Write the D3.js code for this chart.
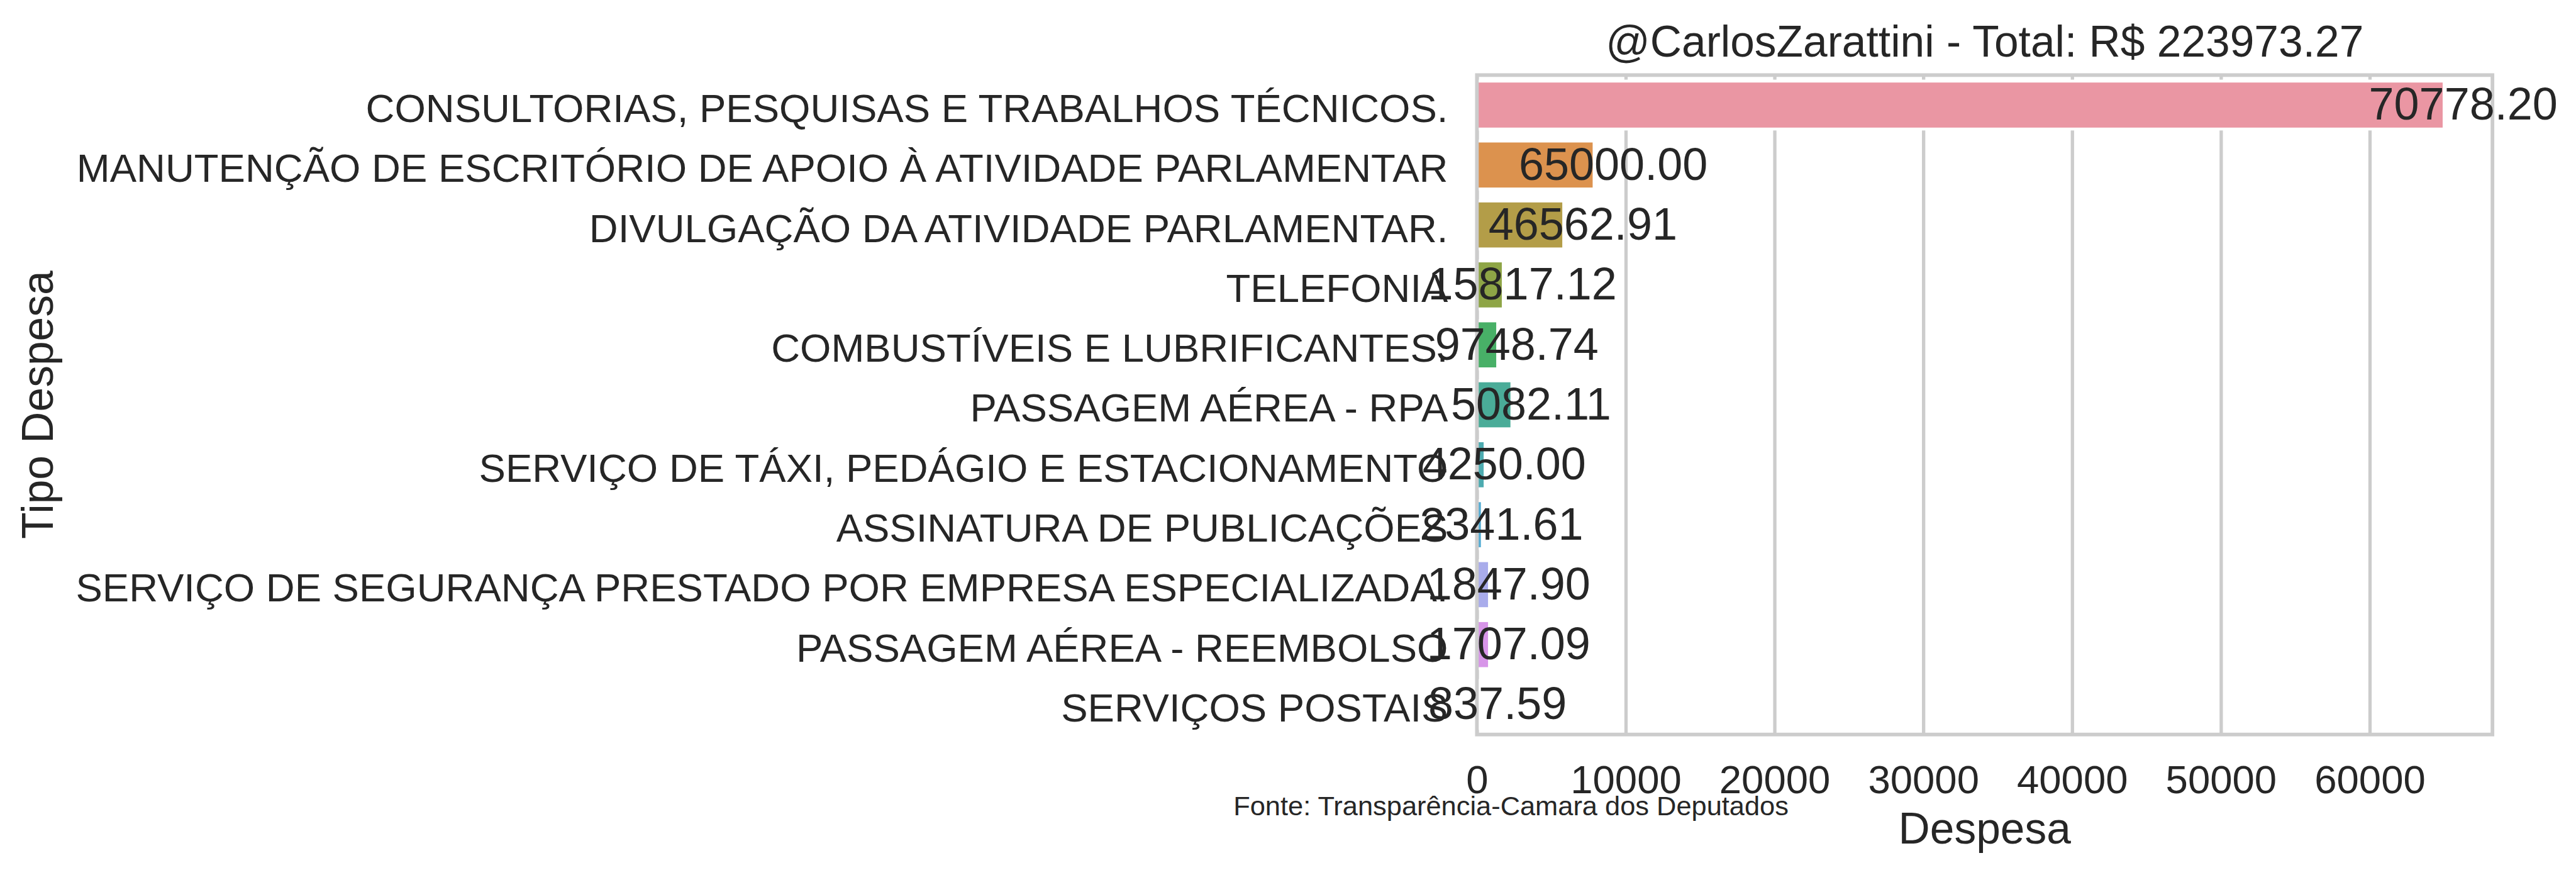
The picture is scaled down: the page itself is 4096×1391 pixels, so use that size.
<!DOCTYPE html>
<html>
<head>
<meta charset="utf-8">
<script src="https://cdn.jsdelivr.net/npm/d3@7"></script>
<style>
  html, body { margin: 0; padding: 0; background: #ffffff; }
  svg { display: block; }
  text { font-family: "Liberation Sans", Arial, sans-serif; fill: #262626; }
</style>
</head>
<body>
<svg id="chart" width="4096" height="1391"></svg>
<script>
// ---------------- data ----------------
const categories = [
  "CONSULTORIAS, PESQUISAS E TRABALHOS TÉCNICOS.",
  "MANUTENÇÃO DE ESCRITÓRIO DE APOIO À ATIVIDADE PARLAMENTAR",
  "DIVULGAÇÃO DA ATIVIDADE PARLAMENTAR.",
  "TELEFONIA",
  "COMBUSTÍVEIS E LUBRIFICANTES.",
  "PASSAGEM AÉREA - RPA",
  "SERVIÇO DE TÁXI, PEDÁGIO E ESTACIONAMENTO",
  "ASSINATURA DE PUBLICAÇÕES",
  "SERVIÇO DE SEGURANÇA PRESTADO POR EMPRESA ESPECIALIZADA.",
  "PASSAGEM AÉREA - REEMBOLSO",
  "SERVIÇOS POSTAIS"
];
// bar lengths as drawn (R$)
const barValues = [65000, 7875, 5835, 1770, 1395, 2350, 550, 365, 845, 845, 100];
// value annotations printed next to the bars
const labelTexts = ["70778.20", "65000.00", "46562.91", "15817.12", "9748.74",
                    "5082.11", "4250.00", "2341.61", "1847.90", "1707.09", "837.59"];
const xTicks = [0, 10000, 20000, 30000, 40000, 50000, 60000];
const titleText = "@CarlosZarattini - Total: R$ 223973.27";
const xLabel = "Despesa";
const yLabel = "Tipo Despesa";
const sourceText = "Fonte: Transparência-Camara dos Deputados";

// ---------------- seaborn husl palette ----------------
function huslPalette(n, h, s, l) {
  const M = [[3.2406, -1.5372, -0.4986], [-0.9689, 1.8758, 0.0415], [0.0557, -0.2040, 1.0570]];
  const refU = 0.19784, refV = 0.46834, labE = 0.008856, labK = 903.3;
  function maxChroma(L, H) {
    const hr = H * Math.PI / 180, sinH = Math.sin(hr), cosH = Math.cos(hr);
    const sub1 = Math.pow(L + 16, 3) / 1560896.0;
    const sub2 = sub1 > 0.008856 ? sub1 : L / 903.3;
    let res = Infinity;
    for (const [m1, m2, m3] of M) {
      const top = (0.99915 * m1 + 1.05122 * m2 + 1.14460 * m3) * sub2;
      const rb = 0.86330 * m3 - 0.17266 * m2;
      const lb = 0.12949 * m3 - 0.38848 * m1;
      const bottom = (rb * sinH + lb * cosH) * sub2;
      for (const t of [0, 1]) {
        const C = L * (top - 1.05122 * t) / (bottom + 0.17266 * sinH * t);
        if (C > 0 && C < res) res = C;
      }
    }
    return res;
  }
  function fInv(t) { return Math.pow(t, 3) > labE ? Math.pow(t, 3) : (116 * t - 16) / labK; }
  function fromLinear(c) { return c <= 0.0031308 ? 12.92 * c : 1.055 * Math.pow(c, 1 / 2.4) - 0.055; }
  function huslToRgb(H, S, L) {
    const C = maxChroma(L, H) / 100 * S;
    const hr = H * Math.PI / 180;
    const U = Math.cos(hr) * C, V = Math.sin(hr) * C;
    const varY = fInv((L + 16) / 116);
    const varU = U / (13 * L) + refU, varV = V / (13 * L) + refV;
    const Y = varY;
    const X = 0 - (9 * Y * varU) / ((varU - 4) * varV - varU * varV);
    const Z = (9 * Y - 15 * varV * Y - varV * X) / (3 * varV);
    return M.map(r => Math.min(1, Math.max(0, fromLinear(r[0] * X + r[1] * Y + r[2] * Z))));
  }
  const out = [];
  for (let i = 0; i < n; i++) {
    const hue = ((i / n + h) % 1) * 359;
    out.push(huslToRgb(hue, s * 99, l * 99));
  }
  return out;
}
function desaturate(rgb, prop) {
  const c = d3.hsl(d3.rgb(rgb[0] * 255, rgb[1] * 255, rgb[2] * 255));
  c.s *= prop;
  return c.formatHex();
}
const colors = huslPalette(categories.length, 0.01, 0.9, 0.7).map(c => desaturate(c, 0.75));

// ---------------- layout ----------------
const S = 4096 / 4718;
const plot = { left: 2705 * S, right: 4565 * S, top: 137.5 * S, bottom: 1345 * S };
const gridColor = "#cccccc";
const tickFont = 63.5;

const svg = d3.select("#chart");
svg.append("rect").attr("width", 4096).attr("height", 1391).attr("fill", "#ffffff");

const x = d3.scaleLinear()
  .domain([0, d3.max(barValues) * 1.05])
  .range([plot.left, plot.right]);
const y = d3.scaleBand()
  .domain(categories)
  .range([plot.top, plot.bottom])
  .paddingInner(0.2)
  .paddingOuter(0.1);

// vertical grid lines
const grid = svg.append("g")
  .attr("transform", `translate(0,${plot.bottom})`)
  .call(d3.axisBottom(x).tickValues(xTicks).tickSize(-(plot.bottom - plot.top)).tickFormat(""));
grid.select(".domain").remove();
grid.selectAll("line").attr("stroke", gridColor).attr("stroke-width", 5.3);

// bars
svg.append("g").selectAll("rect")
  .data(categories)
  .join("rect")
  .attr("x", x(0))
  .attr("y", d => y(d))
  .attr("width", (d, i) => x(barValues[i]) - x(0))
  .attr("height", y.bandwidth())
  .attr("fill", (d, i) => colors[i])
  .attr("stroke", "#ffffff")
  .attr("stroke-width", 4.6);

// spines
svg.append("rect")
  .attr("x", plot.left).attr("y", plot.top)
  .attr("width", plot.right - plot.left).attr("height", plot.bottom - plot.top)
  .attr("fill", "none").attr("stroke", gridColor).attr("stroke-width", 5.8);

// x tick labels
const xAxis = svg.append("g")
  .attr("transform", `translate(0,${plot.bottom})`)
  .call(d3.axisBottom(x).tickValues(xTicks).tickSize(0).tickFormat(d3.format("d")));
xAxis.select(".domain").remove();
xAxis.selectAll("text")
  .attr("y", 1452 * S - plot.bottom).attr("dy", null)
  .attr("font-size", tickFont).attr("fill", "#262626")
  .style("font-family", '"Liberation Sans", Arial, sans-serif');

// y tick labels
const yAxis = svg.append("g")
  .attr("transform", `translate(${plot.left},0)`)
  .call(d3.axisLeft(y).tickSize(0));
yAxis.select(".domain").remove();
yAxis.selectAll("text")
  .attr("x", 2652 * S - plot.left).attr("dy", null).attr("y", 31 * S)
  .attr("font-size", tickFont).attr("fill", "#262626")
  .style("font-family", '"Liberation Sans", Arial, sans-serif');

// value labels
svg.append("g").selectAll("text")
  .data(categories)
  .join("text")
  .attr("x", (d, i) => x(barValues[i]) + 35 * S)
  .attr("y", d => y(d) + y.bandwidth() / 2 + 27 * S)
  .attr("text-anchor", "middle")
  .attr("font-size", 72)
  .text((d, i) => labelTexts[i]);

// title
svg.append("text")
  .attr("x", (plot.left + plot.right) / 2).attr("y", 104 * S)
  .attr("text-anchor", "middle").attr("font-size", 69.5)
  .text(titleText);

// x label
svg.append("text")
  .attr("x", (plot.left + plot.right) / 2).attr("y", 1545 * S)
  .attr("text-anchor", "middle").attr("font-size", 69.5)
  .text(xLabel);

// y label
svg.append("text")
  .attr("transform", `translate(${96.7 * S},${(plot.top + plot.bottom) / 2}) rotate(-90)`)
  .attr("text-anchor", "middle").attr("font-size", 69.5)
  .text(yLabel);

// source note
svg.append("text")
  .attr("x", 2259 * S).attr("y", 1493 * S)
  .attr("font-size", 43.4)
  .text(sourceText);
</script>
</body>
</html>
